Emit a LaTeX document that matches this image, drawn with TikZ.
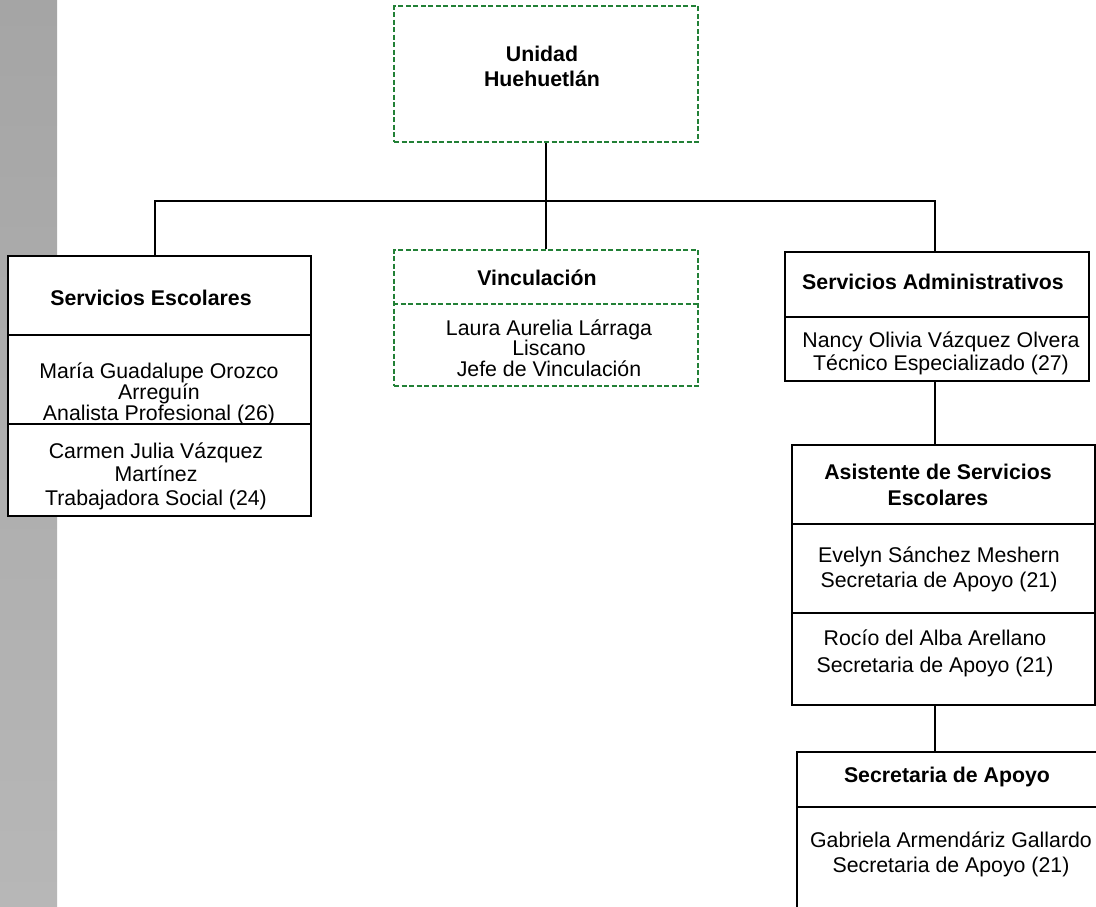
\documentclass[tikz,border=0pt]{standalone}
\usepackage{fontspec}
\setmainfont{Liberation Sans}
\usepackage{tikz}
\definecolor{verdeosc}{RGB}{34,128,54}
\definecolor{grisA}{RGB}{165,165,165}
\definecolor{grisB}{RGB}{183,183,183}

\begin{document}
\begin{tikzpicture}[x=1pt, y=-1pt, line width=2pt,
  caja/.style = {draw, fill=white, rectangle, inner sep=0pt, anchor=north west},
  verde/.style = {draw=verdeosc, dash pattern=on 5pt off 2.5pt},
  txt/.style = {align=center, inner sep=0pt, font=\fontsize{21.3}{25}\selectfont},
  tit/.style = {txt, font=\fontsize{21.3}{26}\selectfont\bfseries}]
\useasboundingbox (0,0) rectangle (1096,906);
\clip (0,0) rectangle (1096,906);
\fill[white] (0,0) rectangle (1096,906);
\shade[top color=grisA, bottom color=grisB] (0,0) rectangle (57,906);

% cajas
\node[caja, verde, minimum width=304pt, minimum height=136pt] (unidad) at (393,5) {};
\node[caja, minimum width=303pt, minimum height=260pt] (esc) at (7,255) {};
\node[caja, verde, minimum width=304pt, minimum height=136pt] (vinc) at (393,249) {};
\node[caja, minimum width=304pt, minimum height=129pt] (admin) at (784,251) {};
\node[caja, minimum width=303pt, minimum height=260pt] (asist) at (791,444) {};
\node[caja, minimum width=306pt, minimum height=180pt] (sec) at (796,751) {};

% divisiones
\foreach \d in {80,169} {
  \draw ([yshift=-\d pt]esc.north west) -- ([yshift=-\d pt]esc.north east);
  \draw ([yshift=-\d pt]asist.north west) -- ([yshift=-\d pt]asist.north east);
}
\draw[verde] ([yshift=-55pt]vinc.north west) -- ([yshift=-55pt]vinc.north east);
\draw ([yshift=-66pt]admin.north west) -- ([yshift=-66pt]admin.north east);
\draw ([yshift=-56pt]sec.north west) -- ([yshift=-56pt]sec.north east);

% textos
\node[tit, font=\fontsize{21.3}{25}\selectfont\bfseries] (unidadT) at (542,66) {Unidad\\Huehuetlán};
\node[tit] (escT) at (151,298) {Servicios Escolares};
\node[txt, font=\fontsize{21.3}{17.5}\selectfont] (escM) at (159,394) {María Guadalupe Orozco\\Arreguín\\Analista Profesional (26)};
\node[txt, font=\fontsize{21.3}{23.5}\selectfont] (escC) at (156,476) {Carmen Julia Vázquez\\Martínez\\Trabajadora Social (24)};
\node[tit] (vincT) at (537,278) {Vinculación};
\node[txt, font=\fontsize{21.3}{20.5}\selectfont] (vincL) at (549,348) {Laura Aurelia Lárraga\\Liscano\\Jefe de Vinculación};
\node[tit] (adminT) at (933,282) {Servicios Administrativos};
\node[txt, font=\fontsize{21.3}{23}\selectfont] (adminN) at (941,353.5) {Nancy Olivia Vázquez Olvera\\Técnico Especializado (27)};
\node[tit] (asistT) at (938,485) {Asistente de Servicios\\Escolares};
\node[txt] (asistE) at (939,569.5) {Evelyn Sánchez Meshern\\Secretaria de Apoyo (21)};
\node[txt, font=\fontsize{21.3}{27}\selectfont] (asistR) at (935,653.5) {Rocío del Alba Arellano\\Secretaria de Apoyo (21)};
\node[tit] (secT) at (947,777) {Secretaria de Apoyo};
\node[txt] (secG) at (951,854.5) {Gabriela Armendáriz Gallardo\\Secretaria de Apoyo (21)};

% lineas
\coordinate (bus) at (546,201);
\coordinate (eje) at ([xshift=-2pt]admin.south);
\draw (unidad.south) -- (vinc.north);
\draw ([xshift=-4.5pt]esc.north) |- (bus) -| ([xshift=-2pt]admin.north);
\draw (eje) -- (eje |- asist.north);
\draw (eje |- asist.south) -- (eje |- sec.north);
\end{tikzpicture}
\end{document}
